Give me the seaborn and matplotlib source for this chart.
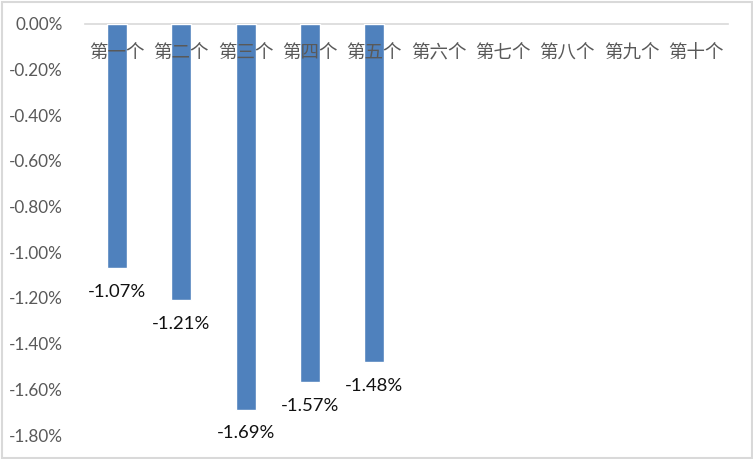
import matplotlib
matplotlib.use("Agg")
import matplotlib.pyplot as plt
from matplotlib.patches import Rectangle
from matplotlib.ticker import FuncFormatter, MultipleLocator
import seaborn as sns
import pandas as pd

categories = ["第一个", "第二个", "第三个", "第四个", "第五个",
              "第六个", "第七个", "第八个", "第九个", "第十个"]
bar_categories = ["第一个", "第二个", "第三个", "第四个", "第五个"]
values = [-1.07, -1.21, -1.69, -1.57, -1.48]

sns.set_style("white")
plt.rcParams["font.family"] = ["Lato", "Noto Sans CJK SC", "DejaVu Sans"]

W, H = 753, 459
fig = plt.figure(figsize=(W / 100, H / 100), dpi=100)
ax = fig.add_axes([85 / W, 1 - 435 / H, (728 - 85) / W, (435 - 24) / H])

df = pd.DataFrame({"cat": bar_categories, "val": values})
sns.barplot(data=df, x="cat", y="val", order=categories, color="#4F81BD",
            saturation=1, width=0.31, ax=ax)

ax.set_axisbelow(False)
ax.set_ylim(-1.8, 0)
ax.set_xlim(-0.5, len(categories) - 0.5)
ax.yaxis.set_major_locator(MultipleLocator(0.2))
ax.yaxis.set_major_formatter(FuncFormatter(lambda v, p: f"{v:.2f}%"))
ax.set_xlabel("")
ax.set_ylabel("")

for s in ["top", "right", "left"]:
    ax.spines[s].set_visible(False)
ax.spines["bottom"].set_position(("data", 0))
ax.spines["bottom"].set_color("#D9D9D9")
ax.spines["bottom"].set_linewidth(1.2)
ax.spines["bottom"].set_zorder(0.5)

ax.tick_params(axis="y", length=0, labelsize=12.3, labelcolor="#595959", pad=16)
ax.tick_params(axis="x", length=0, labelsize=13.3, labelcolor="#595959", pad=15)
for lbl in ax.get_xticklabels():
    lbl.set_fontfamily(["Noto Sans CJK SC", "DejaVu Sans"])

for cat, v in zip(bar_categories, values):
    ax.annotate(f"{v:.2f}%", xy=(categories.index(cat), v), xytext=(0, -17),
                textcoords="offset points", ha="center", va="center",
                fontsize=13.3, color="#111111", annotation_clip=False)

fig.patches.append(Rectangle((1.5 / W, 1.5 / H), (W - 3) / W, (H - 3) / H,
                             transform=fig.transFigure, fill=False,
                             edgecolor="#D9D9D9", linewidth=1.5))

fig.savefig("out.png", dpi=100)
